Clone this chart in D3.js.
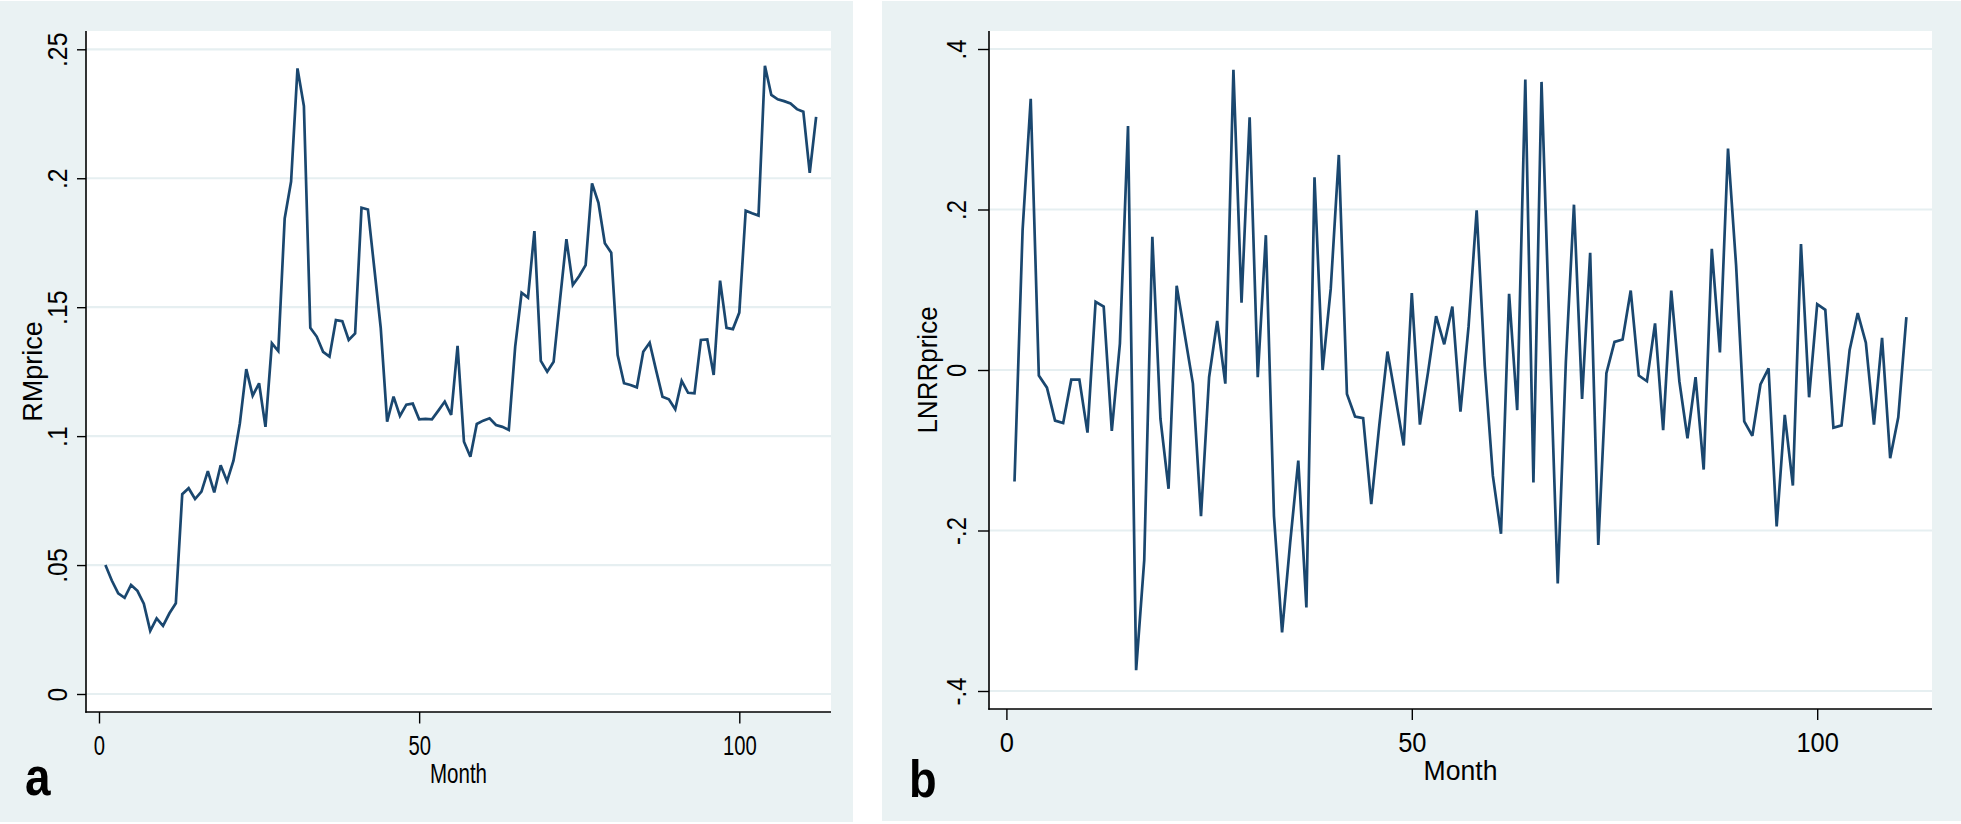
<!DOCTYPE html>
<html><head><meta charset="utf-8">
<script src="https://cdn.jsdelivr.net/npm/d3@7"></script>
<style>
body{margin:0;background:#fff;}
svg{display:block;}
text{font-family:"Liberation Sans",Arial,Helvetica,sans-serif;fill:#000;}
</style>
</head><body>
<svg id="chart" width="1961" height="824"></svg>
<script>
// ---- data ----
const rmPrice = [
0.050,0.044,0.039,0.0373,0.0423,0.040,0.035,0.0245,0.0293,0.0264,
0.0313,0.0352,0.0775,0.0798,0.0756,0.0785,0.0864,0.0782,0.0887,0.0825,
0.0905,0.105,0.126,0.1157,0.1205,0.1036,0.136,0.133,0.1844,0.1987,
0.2426,0.228,0.142,0.1386,0.1327,0.1308,0.145,0.1446,0.1373,0.1398,
0.1886,0.1879,0.165,0.142,0.1056,0.1153,0.1078,0.1122,0.1126,0.1065,
0.1067,0.1065,0.1099,0.1134,0.1082,0.135,0.0978,0.092,0.1047,0.106,
0.1069,0.1043,0.1036,0.1024,0.1347,0.1556,0.1537,0.1795,0.1292,0.125,
0.1288,0.1528,0.1764,0.1586,0.1621,0.1663,0.198,0.1905,0.1748,0.1711,
0.1314,0.1205,0.1198,0.1189,0.1327,0.1362,0.1256,0.1153,0.1143,0.1104,
0.1214,0.1168,0.1166,0.1373,0.1375,0.1237,0.1603,0.142,0.1415,0.1479,
0.1874,0.1864,0.1855,0.2436,0.2323,0.2306,0.2299,0.229,0.2268,0.2258,
0.2021,0.2238
];
const lnrrPrice = [
-0.139,0.175,0.338,-0.007,-0.022,-0.063,-0.066,-0.012,-0.012,-0.078,
0.085,0.079,-0.076,0.033,0.304,-0.374,-0.237,0.166,-0.061,-0.148,
0.105,0.044,-0.017,-0.182,-0.009,0.061,-0.017,0.374,0.084,0.315,
-0.009,0.168,-0.182,-0.327,-0.215,-0.113,-0.296,0.240,0.000,0.101,
0.268,-0.030,-0.058,-0.060,-0.167,-0.068,0.023,-0.035,-0.094,0.096,
-0.068,-0.003,0.067,0.032,0.079,-0.052,0.054,0.199,0.005,-0.132,
-0.204,0.095,-0.050,0.362,-0.140,0.359,0.040,-0.266,0.010,0.206,
-0.036,0.146,-0.218,-0.004,0.035,0.038,0.099,-0.007,-0.014,0.058,
-0.075,0.099,-0.014,-0.085,-0.009,-0.124,0.151,0.022,0.276,0.130,
-0.064,-0.082,-0.018,0.002,-0.195,-0.056,-0.144,0.157,-0.034,0.082,
0.075,-0.072,-0.069,0.025,0.071,0.034,-0.068,0.040,-0.110,-0.059,
0.066
];
const monthTicks = [0, 50, 100];
const monthTickLabels = ["0", "50", "100"];
const rmTicks = [0, 0.05, 0.1, 0.15, 0.2, 0.25];
const rmTickLabels = ["0", ".05", ".1", ".15", ".2", ".25"];
const lnTicks = [-0.4, -0.2, 0, 0.2, 0.4];
const lnTickLabels = ["-.4", "-.2", "0", ".2", ".4"];
const xTitle = "Month";
const yTitles = ["RMprice", "LNRRprice"];
const panelLetters = ["a", "b"];

// ---- drawing ----
const BG = "#eaf2f3", GRID = "#e6eff1", LINE = "#1a476f";
const svg = d3.select("#chart");

function drawPanel(p) {
  const g = svg.append("g");
  g.append("rect").attr("x", p.bg[0]).attr("y", p.bg[1])
    .attr("width", p.bg[2] - p.bg[0]).attr("height", p.bg[3] - p.bg[1]).attr("fill", BG);
  g.append("rect").attr("x", p.plot[0]).attr("y", p.plot[1])
    .attr("width", p.plot[2] - p.plot[0]).attr("height", p.plot[3] - p.plot[1]).attr("fill", "#fff");

  const x = d3.scaleLinear().domain([0, 100]).range(p.xr);
  const y = d3.scaleLinear().domain(p.yd).range(p.yr);

  g.append("g").selectAll("line").data(p.yTicks).join("line")
    .attr("x1", p.plot[0]).attr("x2", p.plot[2])
    .attr("y1", d => y(d)).attr("y2", d => y(d))
    .attr("stroke", GRID).attr("stroke-width", 2.2);

  const line = d3.line().x((d, i) => x(i + 1)).y(d => y(d));
  g.append("path").datum(p.values).attr("d", line)
    .attr("fill", "none").attr("stroke", LINE).attr("stroke-width", 2.7)
    .attr("stroke-linejoin", "miter").attr("stroke-miterlimit", 3);

  // y axis
  const ya = g.append("g").attr("transform", `translate(${p.plot[0]},0)`)
    .call(d3.axisLeft(y).tickValues(p.yTicks).tickFormat((d, i) => p.yLabels[i])
      .tickSize(p.yTickLen).tickSizeOuter(0));
  ya.select(".domain").remove();
  ya.selectAll(".tick line").attr("stroke", "#000").attr("stroke-width", 1.4);
  ya.selectAll(".tick text").attr("x", null).attr("dy", null).attr("y", null)
    .attr("fill", "#000").attr("font-size", p.fs).attr("text-anchor", "middle")
    .attr("font-family", null)
    .attr("transform", `translate(${p.yLabX - p.plot[0] + 0.358 * p.fs},0) rotate(-90) scale(${p.yLabScale},1)`);

  // x axis
  const xa = g.append("g").attr("transform", `translate(0,${p.plot[3]})`)
    .call(d3.axisBottom(x).tickValues(monthTicks).tickFormat((d, i) => monthTickLabels[i])
      .tickSize(p.xTickLen).tickSizeOuter(0));
  xa.select(".domain").remove();
  xa.selectAll(".tick line").attr("stroke", "#000").attr("stroke-width", 1.4);
  xa.selectAll(".tick text").attr("y", null).attr("dy", null)
    .attr("fill", "#000").attr("font-size", p.fs).attr("text-anchor", "middle")
    .attr("font-family", null)
    .attr("transform", `translate(0,${p.xLabBase - p.plot[3]}) scale(${p.xLabScale},1)`);

  // axis lines
  g.append("line").attr("x1", p.plot[0]).attr("x2", p.plot[0]).attr("y1", p.plot[1]).attr("y2", p.plot[3] + 0.7)
    .attr("stroke", "#000").attr("stroke-width", 1.6);
  g.append("line").attr("x1", p.plot[0] - 0.7).attr("x2", p.plot[2]).attr("y1", p.plot[3]).attr("y2", p.plot[3])
    .attr("stroke", "#000").attr("stroke-width", 1.6);

  // titles
  g.append("text").text(xTitle).attr("font-size", p.fs).attr("text-anchor", "middle")
    .attr("transform", `translate(${(p.plot[0] + p.plot[2]) / 2},${p.xTitleBase}) scale(${p.xTitleScale},1)`);
  g.append("text").text(p.yTitle).attr("font-size", p.fs).attr("text-anchor", "middle")
    .attr("transform", `translate(${p.yTitleBase},${(p.plot[1] + p.plot[3]) / 2}) rotate(-90) scale(${p.yTitleScale},1)`);
  g.append("text").text(p.letter).attr("font-size", p.letterFs).attr("font-weight", "bold")
    .attr("transform", `translate(${p.letterX},${p.letterBase}) scale(${p.letterScale},1)`);
}

drawPanel({
  bg: [0, 1, 853, 822], plot: [86, 31, 831, 712],
  xr: [99, 739.3], yd: [0, 0.25], yr: [694, 49.3],
  values: rmPrice, yTicks: rmTicks, yLabels: rmTickLabels, yTitle: yTitles[0], letter: panelLetters[0],
  fs: 27, yTickLen: 9, xTickLen: 11.5,
  yLabX: 57, yLabScale: 0.92, xLabBase: 755, xLabScale: 0.75,
  xTitleBase: 783, xTitleScale: 0.76, yTitleBase: 42, yTitleScale: 1.0,
  letterFs: 54, letterX: 25, letterBase: 795, letterScale: 0.85
});
drawPanel({
  bg: [882, 1, 1961, 821], plot: [989, 31, 1932, 709],
  xr: [1006.4, 1817.2], yd: [-0.4, 0.4], yr: [691, 49],
  values: lnrrPrice, yTicks: lnTicks, yLabels: lnTickLabels, yTitle: yTitles[1], letter: panelLetters[1],
  fs: 28, yTickLen: 11, xTickLen: 11,
  yLabX: 956, yLabScale: 0.85, xLabBase: 752, xLabScale: 0.91,
  xTitleBase: 780, xTitleScale: 0.95, yTitleBase: 936.5, yTitleScale: 0.93,
  letterFs: 52, letterX: 909, letterBase: 797, letterScale: 0.87
});
</script>
</body></html>
